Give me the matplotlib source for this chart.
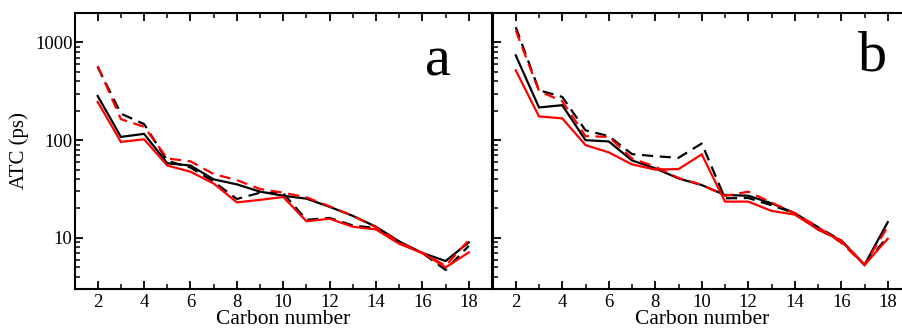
import matplotlib
matplotlib.use("Agg")
import matplotlib.pyplot as plt
from matplotlib.ticker import FixedLocator, NullFormatter, LogLocator, MultipleLocator

plt.rcParams['font.family'] = ['Liberation Serif', 'DejaVu Serif']

carbon = list(range(2, 19))

# Panel a
a_black_solid = [283, 108, 116, 58, 55, 39.7, 35.3, 29.7, 27, 25.2, 20.8, 16.8, 13, 9.2, 7.0, 5.8, 9.0]
a_black_dash = [560, 187, 146, 61.5, 52.5, 37.6, 25, 29, 28.6, 15.3, 16, 13.4, 12.6, 8.9, 7.0, 4.7, 8.3]
a_red_solid = [246, 96, 102, 55, 47.5, 36, 23.1, 24.5, 26.2, 14.8, 15.7, 13, 12.2, 8.7, 7.0, 5.0, 7.1]
a_red_dash = [575, 164, 137, 65, 60.7, 45, 39, 31.6, 29, 26, 21, 16.8, 12.8, 9.0, 7.0, 5.2, 9.5]

# Panel b
b_black_solid = [737, 216, 228, 100, 97, 62, 51.5, 40.6, 34.7, 27.5, 27, 22.6, 17.9, 12.2, 9.4, 5.3, 14.5]
b_black_dash = [1432, 324, 277, 126, 110, 72, 68.5, 66, 92.5, 25.4, 25.6, 21.6, 17.9, 12.9, 9.4, 5.3, 10.3]
b_red_solid = [518, 175, 167, 89, 75, 56.5, 50, 50.6, 71.5, 23.5, 23.5, 18.9, 17.3, 12.2, 9.4, 5.3, 9.8]
b_red_dash = [1326, 318, 250, 110, 108, 65, 53.5, 41, 35, 26.9, 29.7, 23, 17.9, 12.9, 8.9, 5.3, 13.0]

ytick_vals = [10, 100, 1000]
ytick_labels = ["10", "100", "1000"]

W, H = 902, 329
fig = plt.figure(figsize=(W / 100, H / 100), dpi=100)

ax_a = fig.add_axes([74.5 / W, 40 / H, 417.5 / W, 276 / H])
ax_b = fig.add_axes([492.5 / W, 40 / H, 418.5 / W, 276 / H])

dash = (0, (5, 3))
lw = 1.6

panels = [
    (ax_a, a_black_solid, a_black_dash, a_red_solid, a_red_dash, "a", 0.871, 0.775),
    (ax_b, b_black_solid, b_black_dash, b_red_solid, b_red_dash, "b", 0.909, 0.79),
]

for ax, bs, bd, rs, rd, tag, tx, ty in panels:
    ax.plot(carbon, bs, color="black", lw=lw, solid_joinstyle="miter")
    ax.plot(carbon, bd, color="black", lw=lw, linestyle=dash)
    ax.plot(carbon, rs, color="#ff0000", lw=lw, solid_joinstyle="miter")
    ax.plot(carbon, rd, color="#ff0000", lw=lw, linestyle=dash)

    ax.set_yscale("log")
    ax.set_ylim(3, 2000)
    ax.set_xlim(1, 19)

    ax.xaxis.set_major_locator(MultipleLocator(2))
    ax.xaxis.set_minor_locator(MultipleLocator(1))
    ax.set_xticks([2, 4, 6, 8, 10, 12, 14, 16, 18])

    ax.yaxis.set_major_locator(FixedLocator(ytick_vals))
    ax.yaxis.set_minor_locator(LogLocator(base=10, subs=range(2, 10)))
    ax.yaxis.set_minor_formatter(NullFormatter())

    ax.tick_params(axis="x", which="both", direction="in", top=True, bottom=True,
                   labelsize=13.5, pad=3.5)
    ax.tick_params(axis="y", which="both", direction="in", left=True, right=False,
                   labelsize=13.5, pad=1.5)
    ax.tick_params(which="major", length=6, width=1.3)
    ax.tick_params(which="minor", length=3.5, width=1.1)

    for sp in ax.spines.values():
        sp.set_linewidth(1.5)

    ax.set_xlabel("Carbon number", fontsize=15.5)
    ax.xaxis.label.set_va("baseline")
    ax.xaxis.set_label_coords(0.5, -34.5 / 276)
    ax.text(tx, ty, tag, transform=ax.transAxes, fontsize=42,
            ha="center", va="baseline")

ax_a.set_yticklabels(ytick_labels)
ax_a.set_ylabel("ATC (ps)", fontsize=15)
ax_a.yaxis.label.set_va("center")
ax_a.yaxis.set_label_coords(-55 / 417.5, 0.5)
ax_b.tick_params(axis="y", labelleft=False)

fig.savefig("out.png", dpi=100)
